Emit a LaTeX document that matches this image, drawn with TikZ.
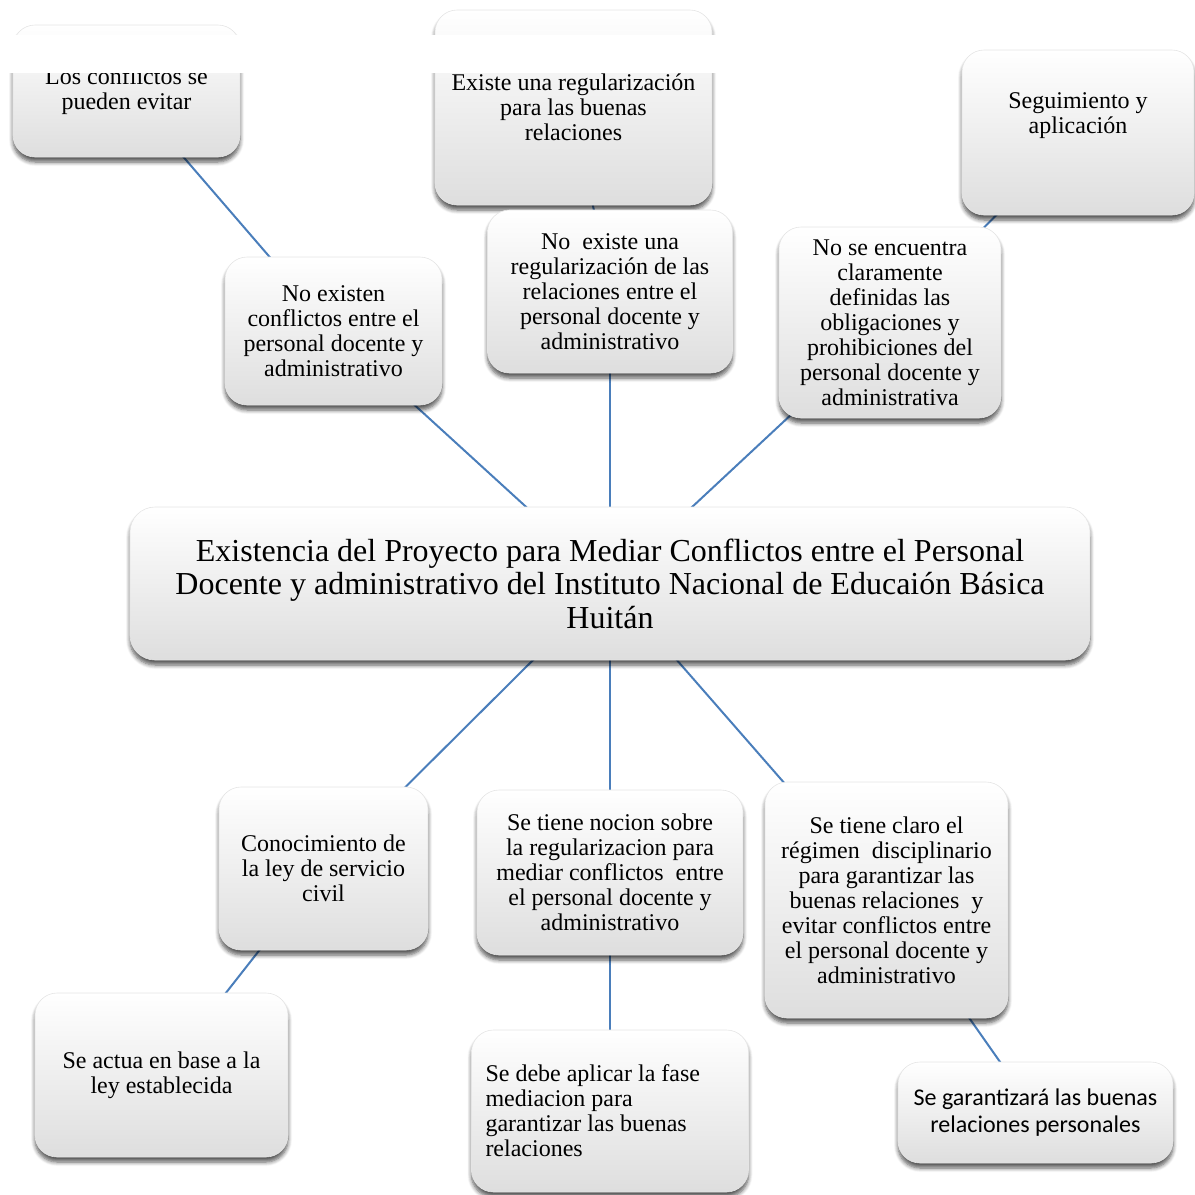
\documentclass[tikz,border=0pt]{standalone}
\usepackage{fontspec}
\setmainfont{Liberation Serif}
\newfontfamily\calib{Carlito}
\usetikzlibrary{shadows.blur,backgrounds}
\definecolor{conn}{HTML}{4A7EBB}
\tikzset{
  bx/.style={rounded corners=22pt, draw=black!10, line width=0.6pt,
    top color=white, middle color=white, bottom color=black!13,
    blur shadow={shadow xshift=0pt, shadow yshift=-5pt, shadow blur steps=6,
      shadow blur radius=4pt, shadow opacity=65},
    inner sep=0pt, align=center, font=\fontsize{24}{25}\selectfont},
  txt/.style={inner sep=0pt, align=center, font=\fontsize{24}{25}\selectfont},
  conline/.style={draw=conn, line width=2pt}
}
\begin{document}
\begin{tikzpicture}[x=1pt,y=-1pt]
\useasboundingbox (0,0) rectangle (1195,1195);
% boxes (centres and sizes in px)
\node[bx, minimum width=227pt, minimum height=132pt] (A) at (126.5,91) {Los conflictos se\\pueden evitar};
\node[bx, minimum width=277pt, minimum height=195pt] (B) at (573.5,107.5) {Existe una regularización\\para las buenas\\relaciones};
\node[bx, minimum width=232pt, minimum height=165pt] (C) at (1078,132.5) {};
\node[txt] (Ct) at (1078,115.5) {Seguimiento y\\aplicación};
\node[bx, minimum width=217pt, minimum height=148pt] (D) at (333.5,331) {No existen\\conflictos entre el\\personal docente y\\administrativo};
\node[bx, minimum width=245pt, minimum height=163pt] (E) at (610,291.5) {No\ \ existe una\\regularización de las\\relaciones entre el\\personal docente y\\administrativo};
\node[bx, minimum width=222pt, minimum height=191pt] (F) at (890,322.5) {No se encuentra\\claramente\\definidas las\\obligaciones y\\prohibiciones del\\personal docente y\\administrativa};
\node[bx, rounded corners=25pt, minimum width=960pt, minimum height=153pt, font=\fontsize{32}{33.5}\selectfont] (G) at (610,583.5) {Existencia del Proyecto para Mediar Conflictos entre el Personal\\Docente y administrativo del Instituto Nacional de Educaión Básica\\Huitán};
\node[bx, minimum width=209pt, minimum height=163pt] (H) at (323.5,868.5) {Conocimiento de\\la ley de servicio\\civil};
\node[bx, minimum width=266pt, minimum height=165pt] (I) at (610,872.5) {Se tiene nocion sobre\\la regularizacion para\\mediar conflictos\ \ entre\\el personal docente y\\administrativo};
\node[bx, minimum width=243pt, minimum height=236pt] (J) at (886.5,900) {Se tiene claro el\\régimen\ \ disciplinario\\para garantizar las\\buenas relaciones\ \ y\\evitar conflictos entre\\el personal docente y\\administrativo};
\node[bx, minimum width=253pt, minimum height=164pt] (K) at (161.5,1075) {Se actua en base a la\\ley establecida};
\node[bx, minimum width=277pt, minimum height=162pt, text width=249pt, align=flush left] (L) at (610,1111) {Se debe aplicar la fase\\mediacion para\\garantizar las buenas\\relaciones};
\node[bx, minimum width=275pt, minimum height=101pt, font=\calib\fontsize{24}{27}\selectfont] (M) at (1035.5,1112.5) {Se garantizará las buenas\\relaciones personales};
% connectors behind boxes
\begin{scope}[on background layer]
\draw[conline] (A.center) -- (D.center);
\draw[conline] (D.center) -- (G.center);
\draw[conline] (B.center) -- (E.center);
\draw[conline] (E.center) -- (G.center);
\draw[conline] (C.center) -- (F.center);
\draw[conline] (F.center) -- (G.center);
\draw[conline] (G.center) -- (H.center);
\draw[conline] (G.center) -- (I.center);
\draw[conline] (G.center) -- (J.center);
\draw[conline] (H.center) -- (K.center);
\draw[conline] (I.center) -- (L.center);
\draw[conline] (J.center) -- (M.center);
\end{scope}
% white band as in the reference
\fill[white] (0,35) rectangle (958,73);
\end{tikzpicture}
\end{document}
